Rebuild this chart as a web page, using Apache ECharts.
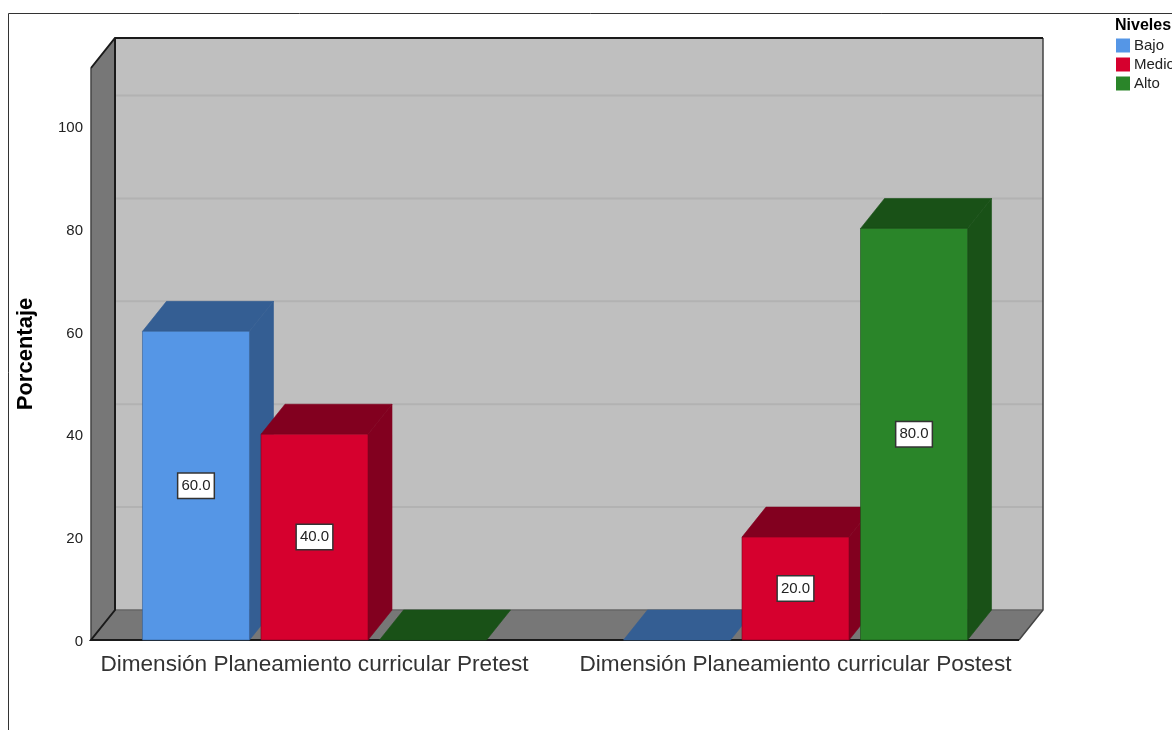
<!DOCTYPE html>
<html><head><meta charset="utf-8">
<style>html,body{margin:0;padding:0;background:#fff;overflow:hidden}#c{width:1172px;height:730px}</style>
<script src="https://cdn.jsdelivr.net/npm/echarts@6/dist/echarts.min.js"></script>
</head><body><div id="c"></div>
<script>
const categories = ['Dimensión Planeamiento curricular Pretest', 'Dimensión Planeamiento curricular Postest'];
const bajo = [60, 0];
const medio = [40, 20];
const alto = [0, 80];
const gridTicks = [20, 40, 60, 80, 100];
const tickValues = [0, 20, 40, 60, 80, 100];
const axisMax = 111.2;
const legendTitle = 'Niveles';
const yTitle = 'Porcentaje';

const DX = 24, DY = -30, INSET_L = 17, INSET_R = 17;
const FONT = '"Liberation Sans", Arial, sans-serif';

function bar(offsetIdx, front, dark) {
  return function (params, api) {
    const cat = api.value(0), val = api.value(1);
    const band = api.size([1, 0])[0];
    const w = band * 0.2225, pitch = band * 0.2464;
    const base = api.coord([cat, 0]);
    const top = api.coord([cat, val]);
    const cx = base[0] + offsetIdx * pitch;
    const l = cx - w / 2, r = cx + w / 2, b = base[1], t = top[1];
    const kids = [];
    const edge = { stroke: dark, lineWidth: 0.6 };
    kids.push({ type: 'polygon', shape: { points: [[l, t], [r, t], [r + DX, t + DY], [l + DX, t + DY]] }, style: { fill: dark, ...edge } });
    if (val > 0) {
      kids.push({ type: 'polygon', shape: { points: [[r, t], [r + DX, t + DY], [r + DX, b + DY], [r, b]] }, style: { fill: dark, ...edge } });
      kids.push({ type: 'rect', shape: { x: l, y: t, width: r - l, height: b - t }, style: { fill: front, stroke: dark, lineWidth: 0.6 } });
      kids.push({ type: 'text', x: cx, y: (t + b) / 2, style: {
        text: val.toFixed(1), x: 0, y: 0, align: 'center', verticalAlign: 'middle',
        font: '15px ' + FONT, fill: '#222', backgroundColor: '#fff', borderColor: '#333', borderWidth: 1.5,
        padding: [5, 3, 4, 3] } });
    }
    return { type: 'group', children: kids };
  };
}

function backdrop(params, api) {
  const cs = params.coordSys;
  const xL = cs.x + INSET_L, xR = cs.x + cs.width - INSET_R;
  const y0 = api.coord([0, 0])[1], yT = api.coord([0, axisMax])[1];
  const kids = [];
  const wallFill = '#bfbfbf', sideFill = '#777777';
  kids.push({ type: 'polygon', shape: { points: [[xL + DX, yT + DY], [xR + DX, yT + DY], [xR + DX, y0 + DY], [xL + DX, y0 + DY]] }, style: { fill: wallFill } });
  gridTicks.forEach(v => {
    const y = api.coord([0, v])[1] + DY;
    kids.push({ type: 'line', shape: { x1: xL + DX, y1: y, x2: xR + DX, y2: y }, style: { stroke: '#b2b2b2', lineWidth: 2 } });
  });
  kids.push({ type: 'polygon', shape: { points: [[xL, y0], [xL + DX, y0 + DY], [xL + DX, yT + DY], [xL, yT]] }, style: { fill: sideFill } });
  kids.push({ type: 'polygon', shape: { points: [[xL, y0], [xR, y0], [xR + DX, y0 + DY], [xL + DX, y0 + DY]] }, style: { fill: sideFill } });
  kids.push({ type: 'line', shape: { x1: xL + DX, y1: y0 + DY, x2: xR + DX, y2: y0 + DY }, style: { stroke: '#666', lineWidth: 1.5 } });
  const black = { stroke: '#1a1a1a', lineWidth: 2, fill: null };
  const grey = { stroke: '#444', lineWidth: 1.5, fill: null };
  kids.push({ type: 'polyline', shape: { points: [[xR + DX, yT + DY], [xR + DX, y0 + DY], [xR, y0]] }, style: grey });
  kids.push({ type: 'line', shape: { x1: xL, y1: y0, x2: xL, y2: yT }, style: grey });
  kids.push({ type: 'polyline', shape: { points: [[xL, yT], [xL + DX, yT + DY], [xR + DX, yT + DY]] }, style: black });
  kids.push({ type: 'polyline', shape: { points: [[xR, y0], [xL, y0], [xL + DX, y0 + DY], [xL + DX, yT + DY]] }, style: black });
  return { type: 'group', children: kids };
}

function points(arr) { return arr.map((v, i) => [i, v]); }
function barSeries(name, values, idx, front, dark) {
  return { type: 'custom', name, data: points(values), renderItem: bar(idx, front, dark), clip: false, silent: true, itemStyle: { color: front }, encode: { x: 0, y: 1 }, z: 3 + idx };
}

const chart = echarts.init(document.getElementById('c'), null, { renderer: 'canvas', width: 1172, height: 730 });
chart.setOption({
  animation: false,
  backgroundColor: '#fff',
  textStyle: { fontFamily: FONT },
  title: { text: legendTitle, left: 1115, top: 18, padding: 0, textStyle: { fontSize: 16, fontWeight: 'bold', color: '#000', fontFamily: FONT } },
  legend: { orient: 'vertical', left: 1116, top: 38, padding: 0, itemWidth: 14, itemHeight: 14, itemGap: 4,
    icon: 'rect', data: ['Bajo', 'Medio', 'Alto'], selectedMode: false,
    textStyle: { fontSize: 15, color: '#222', fontFamily: FONT, padding: [0, 0, 0, -1] } },
  grid: { left: 74, top: 68, width: 962, height: 572, containLabel: false },
  xAxis: { type: 'category', data: categories, axisLine: { show: false }, axisTick: { show: false },
    axisLabel: { interval: 0, margin: 13, fontSize: 22.6, color: '#333', fontFamily: FONT } },
  yAxis: { type: 'value', min: 0, max: axisMax, interval: 20, offset: -17, name: yTitle, nameLocation: 'middle', nameRotate: 90, nameGap: 54,
    nameTextStyle: { fontSize: 22, fontWeight: 'bold', color: '#000', fontFamily: FONT },
    axisLine: { show: false }, axisTick: { show: false }, splitLine: { show: false },
    axisLabel: { margin: 8, customValues: tickValues, formatter: '{a|{value}}',
      rich: { a: { fontSize: 15, color: '#222', fontFamily: FONT, padding: [4, 0, 0, 0] } } } },
  graphic: [{ type: 'polyline', silent: true, z: -1, shape: { points: [[8.5, 740], [8.5, 13.5], [1180, 13.5]] }, style: { stroke: '#333', lineWidth: 1, fill: null } }],
  series: [
    { type: 'custom', name: 'fondo', data: [[0, 0]], renderItem: backdrop, clip: false, silent: true, z: 1, encode: { x: 0, y: 1 } },
    barSeries('Bajo', bajo, -1, '#5596e6', '#345e93'),
    barSeries('Medio', medio, 0, '#d6002e', '#82001f'),
    barSeries('Alto', alto, 1, '#2a8529', '#195117')
  ]
});
</script></body></html>
